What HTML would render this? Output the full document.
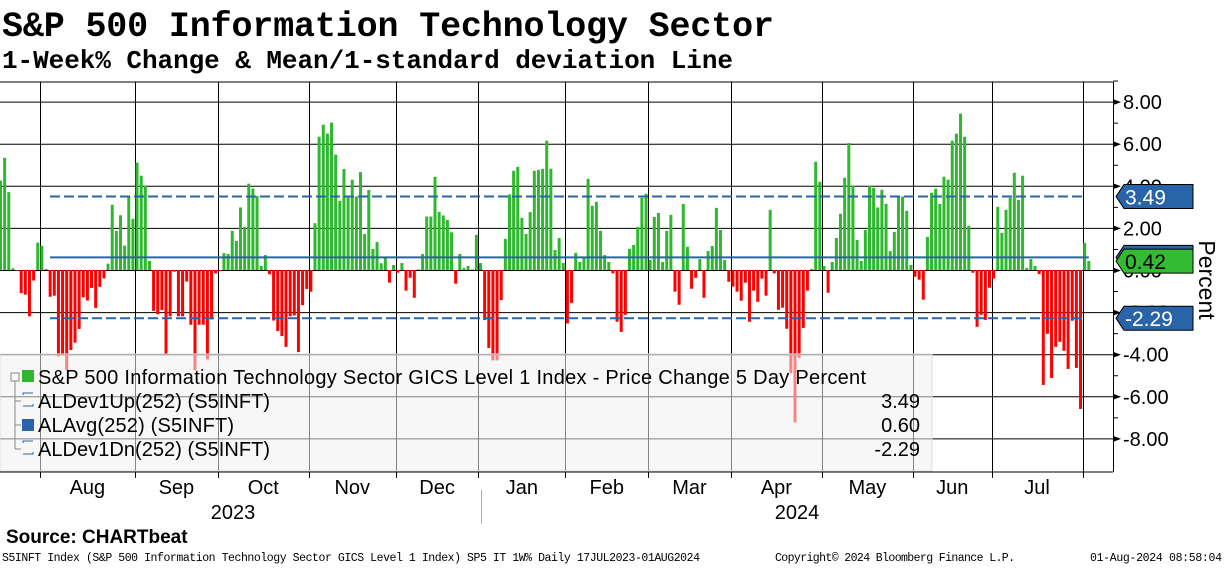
<!DOCTYPE html>
<html><head><meta charset="utf-8"><style>
body{margin:0;background:#fff;}
svg text{font-family:"Liberation Sans",sans-serif;}
</style></head><body>
<svg id="chart" width="1224" height="566" xmlns="http://www.w3.org/2000/svg">
<text x="2" y="36" textLength="772" style="font-family:'Liberation Mono',monospace;font-weight:bold;font-size:35px">S&amp;P 500 Information Technology Sector</text>
<text x="2" y="68" textLength="731" style="font-family:'Liberation Mono',monospace;font-weight:bold;font-size:26px">1-Week% Change &amp; Mean/1-standard deviation Line</text>
<g id="grid"></g>
<g id="bars"></g>
<g id="lines"></g>
<g id="legend">
<rect x="0" y="354" width="932" height="117" fill="rgba(240,240,240,0.55)"/>
<rect x="0" y="354" width="932" height="117" fill="none" stroke="#ddd"/>
<rect x="11" y="373" width="8" height="8" fill="none" stroke="#888"/>
<line x1="15" y1="381" x2="15" y2="449" stroke="#888"/>
<line x1="15" y1="401" x2="21" y2="401" stroke="#888"/><line x1="15" y1="425" x2="21" y2="425" stroke="#888"/><line x1="15" y1="449" x2="21" y2="449" stroke="#888"/>
<rect x="22" y="370" width="12" height="12" fill="#2fb82f"/>
<text x="38" y="384" font-size="20" textLength="828">S&amp;P 500 Information Technology Sector GICS Level 1 Index - Price Change 5 Day Percent</text>
<path d="M23 395v-2h10M23 406h10v-2" fill="none" stroke="#2a64a8"/>
<text x="38" y="408" font-size="20" textLength="232">ALDev1Up(252) (S5INFT)</text>
<text x="920" y="408" font-size="20" text-anchor="end">3.49</text>
<rect x="22" y="419" width="12" height="12" fill="#2a64a8"/>
<text x="38" y="432" font-size="20" textLength="196">ALAvg(252) (S5INFT)</text>
<text x="920" y="432" font-size="20" text-anchor="end">0.60</text>
<path d="M23 443v-2h10M23 454h10v-2" fill="none" stroke="#2a64a8"/>
<text x="38" y="456" font-size="20" textLength="232">ALDev1Dn(252) (S5INFT)</text>
<text x="920" y="456" font-size="20" text-anchor="end">-2.29</text>
</g>
<g id="axis"></g>
<g id="xaxis"></g>
<text transform="translate(1199,280) rotate(90)" text-anchor="middle" font-size="23">Percent</text>
<text x="6" y="543" font-weight="bold" font-size="19">Source: CHARTbeat</text>
<text x="2" y="561" font-size="11.5" textLength="698" style="font-family:'Liberation Mono',monospace">S5INFT Index (S&amp;P 500 Information Technology Sector GICS Level 1 Index) SP5 IT 1W%  Daily 17JUL2023-01AUG2024</text>
<text x="775" y="561" font-size="11.5" textLength="240" style="font-family:'Liberation Mono',monospace">Copyright© 2024 Bloomberg Finance L.P.</text>
<text x="1090" y="561" font-size="11.5" textLength="132" style="font-family:'Liberation Mono',monospace">01-Aug-2024 08:58:04</text>
</svg>
<script>
const weeklyChange = [4.25,5.33,3.7,0.08,0,-1.1,-1.17,-2.2,-0.5,1.3,1.15,0.05,-1.27,-1.22,-4.1,-4.0,-4.75,-3.8,-3.45,-2.8,-1.3,-1.45,-0.85,-1.8,-0.8,-0.4,0.3,3.1,1.86,2.6,1.16,3.52,2.43,5.1,4.48,4.0,0.43,-1.94,-2.1,-1.9,-3.97,-2.2,-0.08,-2.2,-2.2,-0.55,-2.6,-4.76,-2.6,-2.6,-4.25,-2.35,-0.16,-0.05,0.8,0.76,1.86,1.38,2.97,2.05,4.1,3.87,3.52,0.2,0.71,-0.2,-2.4,-2.9,
-3.14,-3.65,-2.2,-2.16,-3.9,-1.67,-0.9,-1.03,2.22,6.33,6.9,6.48,7.0,5.48,3.29,4.8,3.44,4.29,3.49,4.65,1.71,3.8,1.0,1.33,0.32,0.6,-0.6,0.24,-0.13,0.33,-0.98,-0.37,-1.32,0.03,0.76,2.54,2.54,4.43,2.76,2.59,2.38,1.79,-0.65,0.76,0.1,0.19,0.03,1.67,0.33,-2.38,-3.7,-4.29,-4.29,-1.43,1.48,3.59,4.71,4.9,2.48,1.71,2.75,4.71,4.76,4.81,6.14,4.81,0.95,1.52,
0.33,-2.54,-1.56,0.81,0.38,0.57,4.33,3.05,3.24,1.86,0.71,0.38,-0.16,-2.46,-2.94,-2.13,1.0,1.19,2.05,3.43,3.62,0.48,2.52,2.71,0.38,1.86,2.62,-1.03,-1.65,3.14,1.1,-0.89,-0.37,0.52,-1.32,0.9,1.14,2.95,1.9,0.48,-0.56,-0.79,-1.03,-1.46,-0.6,-2.46,-0.98,-1.51,-0.41,-1.22,2.86,-0.16,-1.89,-1.79,-2.79,-4.9,-7.24,-4.17,-2.75,-0.98,0.05,5.14,4.19,0.19,-1.08,0.38,1.52,
2.67,4.38,6.03,4.0,1.43,0.43,1.9,4.0,3.9,2.97,3.81,3.14,0.9,1.81,3.49,3.49,2.81,0.24,-0.32,-0.46,-1.41,1.57,3.67,3.86,3.14,4.43,4.29,6.14,6.48,7.43,6.33,2.1,-0.13,-2.7,-2.13,-2.37,-0.84,-0.41,3.0,1.76,2.86,3.43,4.62,3.33,4.48,0.1,0.52,0.19,-0.19,-5.46,-3.03,-5.13,-3.65,-3.41,-3.84,-4.7,-2.41,-4.65,-6.6,1.29,0.43];
const meanValue = 0.60;
const devUp = 3.49;
const devDown = -2.29;
const lastValue = 0.42;
const yTicks = [8,6,4,2,0,-2,-4,-6,-8];
const yTickLabels = ["8.00","6.00","4.00","2.00","0.00","-2.00","-4.00","-6.00","-8.00"];
const months = ["Aug","Sep","Oct","Nov","Dec","Jan","Feb","Mar","Apr","May","Jun","Jul"];
const monthStartIndex = [10,33,53,75,96,116,137,157,177,199,221,240,262];
const years = ["2023","2024"];

const NS="http://www.w3.org/2000/svg";
const X0=0.5, STEP=1088.3/(weeklyChange.length-1), ZERO=270, PPU=21.05, RIGHT=1113, TOP=82, BOT=472;
const y=v=>ZERO-v*PPU;
const x=i=>X0+i*STEP;
function el(p,tag,attrs){const e=document.createElementNS(NS,tag);for(const k in attrs)e.setAttribute(k,attrs[k]);p.appendChild(e);return e;}
const grid=document.getElementById('grid'),bars=document.getElementById('bars'),lines=document.getElementById('lines'),axis=document.getElementById('axis'),xaxis=document.getElementById('xaxis');
el(grid,'line',{x1:0,x2:RIGHT,y1:TOP,y2:TOP,stroke:'#000'});
el(grid,'line',{x1:0,x2:RIGHT,y1:BOT,y2:BOT,stroke:'#000'});
yTicks.forEach(v=>{el(grid,'line',{x1:0,x2:RIGHT,y1:y(v)+.5,y2:y(v)+.5,stroke:'#000'});});
monthStartIndex.forEach(i=>{const gx=Math.round(x(i)-STEP/2)+.5;el(grid,'line',{x1:gx,x2:gx,y1:TOP,y2:BOT+6,stroke:'#000'});});
weeklyChange.forEach((v,i)=>{
  const r=el(bars,'rect',{x:x(i)-1.5,width:3,y:Math.min(y(v),ZERO),height:Math.max(Math.abs(v*PPU),0.5),fill:v>=0?'#2fb82f':'#ff0000'});
  
  
});
const lx1=50,lx2=x(weeklyChange.length-1);
const m=el(lines,'line',{x1:lx1,x2:lx2,y1:y(meanValue),y2:y(meanValue),stroke:'#2a64a8','stroke-width':2});

const du=el(lines,'line',{x1:lx1,x2:lx2-4,y1:y(devUp),y2:y(devUp),stroke:'#2a64a8','stroke-width':2,'stroke-dasharray':'10 4'});

const dd=el(lines,'line',{x1:lx1,x2:lx2-4,y1:y(devDown),y2:y(devDown),stroke:'#2a64a8','stroke-width':2,'stroke-dasharray':'10 4'});

el(axis,'line',{x1:RIGHT+.5,x2:RIGHT+.5,y1:TOP,y2:BOT,stroke:'#000'});
yTicks.forEach((v,k)=>{
  const yy=y(v)+.5;
  el(axis,'path',{d:`M${RIGHT} ${yy-3}L${RIGHT+8} ${yy}L${RIGHT} ${yy+3}Z`,fill:'#000'});
  el(axis,'line',{x1:RIGHT,x2:RIGHT+5,y1:y(v+1)+.5,y2:y(v+1)+.5,stroke:'#000'});
  const t=el(axis,'text',{x:1123,y:yy+7,'font-size':20});t.textContent=yTickLabels[k];
  
});
function callout(v,txt,fill,color,name){
  const cy=y(v);const g=el(axis,'g',{});
  
  el(g,'path',{d:`M1116 ${cy}L1124 ${cy-12}H1193V${cy+12}H1124Z`,fill:fill,stroke:'#000','stroke-width':1});
  const t=el(g,'text',{x:1125,y:cy+8,'font-size':21,fill:color});t.textContent=txt;
}
callout(meanValue,'',"#2a64a8","#fff",'mean-callout');
callout(devUp,devUp.toFixed(2),"#2a64a8","#fff",'dev-up-callout');
callout(lastValue,lastValue.toFixed(2),"#33bb33","#000",'last-value-callout');
callout(devDown,devDown.toFixed(2),"#2a64a8","#fff",'dev-down-callout');
months.forEach((mn,k)=>{
  const cx=(x(monthStartIndex[k])+x(monthStartIndex[k+1]))/2-STEP/2;
  const t=el(xaxis,'text',{x:cx,y:494,'font-size':20,'text-anchor':'middle'});t.textContent=mn;
  
});
el(xaxis,'line',{x1:481.5,x2:481.5,y1:490,y2:524,stroke:'#aaa'});
const y1=el(xaxis,'text',{x:233,y:519,'font-size':20,'text-anchor':'middle'});y1.textContent=years[0];

const y2=el(xaxis,'text',{x:797,y:519,'font-size':20,'text-anchor':'middle'});y2.textContent=years[1];

document.getElementById('chart').appendChild(document.getElementById('legend'));
</script>
</body></html>
